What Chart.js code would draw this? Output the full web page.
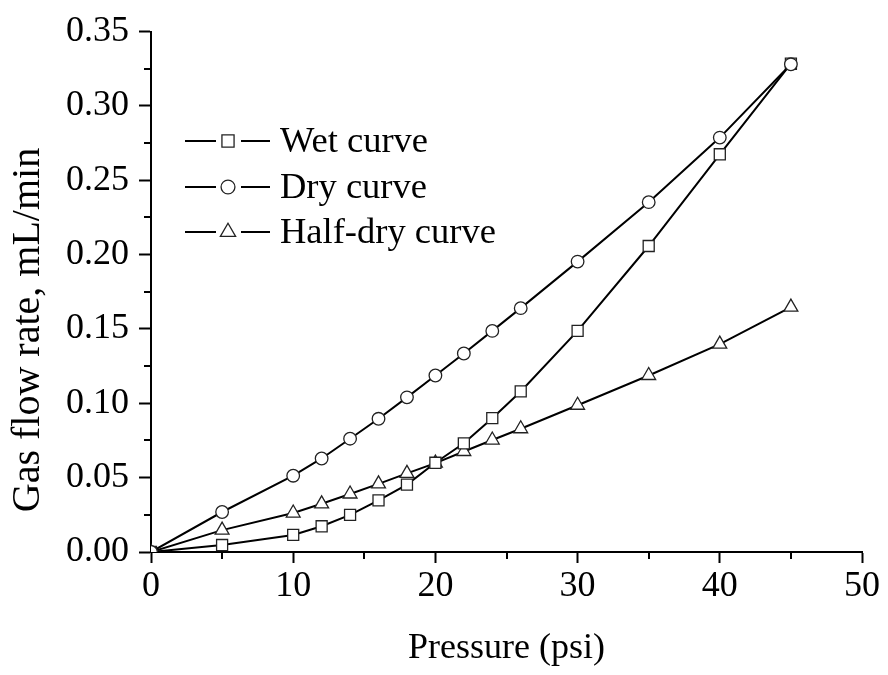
<!DOCTYPE html>
<html>
<head>
<meta charset="utf-8">
<script src="https://cdn.jsdelivr.net/npm/chart.js@4.4.1/dist/chart.umd.min.js"></script>
<style>
    html, body { margin: 0; padding: 0; background: #fff; }
    #wrap { width: 888px; height: 675px; }
</style>
</head>
<body>
<div id="wrap"><canvas id="flowChart" width="888" height="675"></canvas></div>
<script>
// data
const pressure = [0, 5, 10, 12, 14, 16, 18, 20, 22, 24, 26, 30, 35, 40, 45];
const wetCurve = [0, 0.0047, 0.0115, 0.0173, 0.025, 0.0347, 0.0453, 0.060, 0.0731, 0.090, 0.108, 0.1487, 0.2058, 0.2675, 0.3284];
const dryCurve = [0, 0.0269, 0.0513, 0.0629, 0.0762, 0.0896, 0.104, 0.1187, 0.1335, 0.1487, 0.164, 0.1953, 0.2353, 0.2787, 0.328];
const halfDryCurve = [0, 0.0147, 0.0262, 0.0324, 0.039, 0.0458, 0.0529, 0.0598, 0.0676, 0.0753, 0.0829, 0.0987, 0.1187, 0.1398, 0.1647];
const seriesNames = ['Wet curve', 'Dry curve', 'Half-dry curve'];
const xTicks = [0, 10, 20, 30, 40, 50];
const yTicks = [0, 0.05, 0.10, 0.15, 0.20, 0.25, 0.30, 0.35];
const xMinorTicks = [5, 15, 25, 35, 45];
const yMinorTicks = [0.025, 0.075, 0.125, 0.175, 0.225, 0.275, 0.325];

const FONT = '"Liberation Serif", "Times New Roman", serif';

function toPoints(ys) {
    return pressure.map((p, i) => ({ x: p, y: ys[i] }));
}

function makeDataset(label, ys, style, radius, order) {
    return {
        label: label,
        data: toPoints(ys),
        borderColor: '#000',
        borderWidth: 2,
        pointStyle: style,
        pointRadius: radius,
        pointBackgroundColor: '#fff',
        pointBorderColor: '#222',
        pointBorderWidth: 1.3,
        tension: 0,
        order: order
    };
}

// minor ticks, legend and y title
const extrasPlugin = {
    id: 'extras',
    afterDraw(chart) {
        const ctx = chart.ctx;
        const xs = chart.scales.x;
        const ys = chart.scales.y;
        const area = chart.chartArea;
        ctx.save();
        ctx.strokeStyle = '#000';
        ctx.lineWidth = 2;
        ctx.beginPath();
        yMinorTicks.forEach(v => {
            const py = Math.round(ys.getPixelForValue(v));
            ctx.moveTo(area.left - 7, py);
            ctx.lineTo(area.left, py);
        });
        xMinorTicks.forEach(v => {
            const px = Math.round(xs.getPixelForValue(v));
            ctx.moveTo(px, area.bottom);
            ctx.lineTo(px, area.bottom + 7);
        });
        ctx.stroke();

        // legend
        const rows = [141, 187, 232];
        chart.data.datasets.forEach((ds, i) => {
            const y = rows[i];
            ctx.strokeStyle = '#000';
            ctx.lineWidth = 2;
            ctx.beginPath();
            ctx.moveTo(185, y); ctx.lineTo(216, y);
            ctx.moveTo(241, y); ctx.lineTo(270, y);
            ctx.stroke();
            ctx.fillStyle = '#fff';
            ctx.strokeStyle = '#222';
            ctx.lineWidth = 1.3;
            Chart.helpers.drawPoint(ctx, { pointStyle: ds.pointStyle, radius: ds.pointRadius * 1.1, borderWidth: 1.3 }, 228, y);
            ctx.fillStyle = '#000';
            ctx.font = '36.5px ' + FONT;
            ctx.textAlign = 'left';
            ctx.textBaseline = 'middle';
            ctx.fillText(seriesNames[i], 280, y + 1);
        });

        // y axis title
        ctx.translate(28, 330);
        ctx.rotate(-Math.PI / 2);
        ctx.fillStyle = '#000';
        ctx.font = '40px ' + FONT;
        ctx.textAlign = 'center';
        ctx.textBaseline = 'middle';
        ctx.fillText('Gas flow rate, mL/min', 0, 0);
        ctx.restore();
    }
};

const canvas = document.getElementById('flowChart');
const flowChart = new Chart(canvas, {
    type: 'line',
    data: {
        datasets: [
            makeDataset(seriesNames[0], wetCurve, 'rect', 7.8, 1),
            makeDataset(seriesNames[1], dryCurve, 'circle', 6.3, 0),
            makeDataset(seriesNames[2], halfDryCurve, 'triangle', 8, 2)
        ]
    },
    options: {
        responsive: false,
        animation: false,
        devicePixelRatio: 1,
        layout: { padding: { left: 0, right: 26, top: 27, bottom: 0 } },
        plugins: {
            legend: { display: false },
            tooltip: { enabled: false }
        },
        scales: {
            x: {
                type: 'linear',
                min: 0,
                max: 50,
                afterFit(scale) { scale.height = 123; },
                afterBuildTicks(scale) { scale.ticks = xTicks.map(v => ({ value: v })); },
                border: { display: true, color: '#000', width: 2 },
                grid: { display: true, drawOnChartArea: false, drawTicks: true, tickLength: 11, tickColor: '#000', tickWidth: 2 },
                ticks: {
                    color: '#000',
                    font: { family: FONT, size: 36 },
                    padding: 2,
                    maxRotation: 0,
                    callback: v => String(v)
                },
                title: {
                    display: true,
                    text: 'Pressure (psi)',
                    color: '#000',
                    font: { family: FONT, size: 36 },
                    padding: { top: 0, bottom: 5 }
                }
            },
            y: {
                type: 'linear',
                min: 0,
                max: 0.35,
                afterFit(scale) { scale.width = 151; },
                afterBuildTicks(scale) { scale.ticks = yTicks.map(v => ({ value: v })); },
                border: { display: true, color: '#000', width: 2 },
                grid: { display: true, drawOnChartArea: false, drawTicks: true, tickLength: 12, tickColor: '#000', tickWidth: 2 },
                ticks: {
                    color: '#000',
                    font: { family: FONT, size: 36 },
                    padding: 10,
                    callback: v => v.toFixed(2)
                }
            }
        }
    },
    plugins: [extrasPlugin]
});
</script>
</body>
</html>
